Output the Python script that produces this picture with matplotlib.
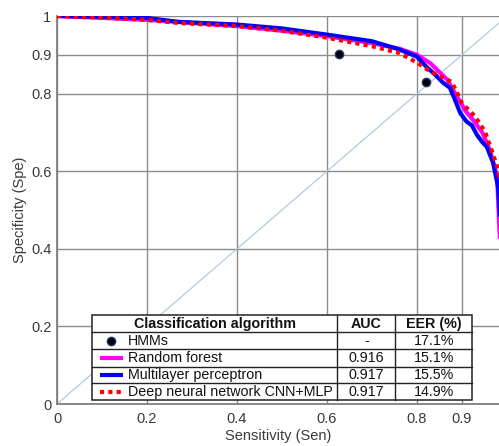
import matplotlib

matplotlib.use("Agg")

import matplotlib.pyplot as plt
from matplotlib.patches import Rectangle

plt.rcParams["font.family"] = ["Liberation Sans", "DejaVu Sans"]

# ROC-style curves (sensitivity vs specificity)
rf_sen = [0.0, 0.1, 0.2, 0.3, 0.4, 0.5, 0.6, 0.7, 0.76, 0.8, 0.83, 0.867,
          0.889, 0.91, 0.924, 0.945, 0.962, 0.978, 0.983, 0.992, 1.0]
rf_spe = [1.0, 0.995, 0.99, 0.982, 0.974, 0.962, 0.948, 0.93, 0.916, 0.9, 0.878, 0.836,
          0.792, 0.752, 0.733, 0.7, 0.655, 0.586, 0.45, 0.3, 0.0]

mlp_sen = [0.0, 0.1, 0.2, 0.27, 0.4, 0.5, 0.6, 0.7, 0.76, 0.8, 0.82, 0.84, 0.858,
           0.873, 0.884, 0.896, 0.91, 0.922, 0.933, 0.945, 0.955, 0.969, 0.98, 0.995, 1.0]
mlp_spe = [1.0, 0.998, 0.995, 0.985, 0.978, 0.968, 0.952, 0.935, 0.914, 0.895, 0.87, 0.849, 0.828,
           0.815, 0.785, 0.75, 0.728, 0.718, 0.694, 0.675, 0.663, 0.622, 0.56, 0.3, 0.0]

dnn_sen = [0.0, 0.1, 0.2, 0.27, 0.4, 0.5, 0.6, 0.7, 0.76, 0.8, 0.83, 0.86, 0.877,
           0.89, 0.9, 0.929, 0.951, 0.967, 0.978, 0.988, 1.0]
dnn_spe = [1.0, 0.996, 0.99, 0.982, 0.974, 0.962, 0.944, 0.922, 0.905, 0.88, 0.857, 0.84, 0.83,
           0.8, 0.775, 0.741, 0.702, 0.65, 0.612, 0.56, 0.0]

hmm_sen = [0.627, 0.819]
hmm_spe = [0.902, 0.831]

x_ticks = [0, 0.2, 0.4, 0.6, 0.8, 0.9]
y_ticks = [0, 0.2, 0.4, 0.6, 0.8, 0.9, 1]

table_header = ["Classification algorithm", "AUC", "EER (%)"]
algorithms = ["HMMs", "Random forest", "Multilayer perceptron", "Deep neural network CNN+MLP"]
auc_values = ["-", "0.916", "0.917", "0.917"]
eer_values = ["17.1%", "15.1%", "15.5%", "14.9%"]

W, H = 499, 446
fig = plt.figure(figsize=(W / 100, H / 100), dpi=100)
ax = fig.add_axes([57 / W, 1 - 404 / H, (W - 57) / W, (404 - 16) / H])

ax.plot([0, 1], [0, 1], color="#a9c4df", lw=0.8, zorder=2)
ax.plot(rf_sen, rf_spe, color="#ff00ff", lw=3.0, zorder=3, solid_capstyle="butt")
ax.plot(mlp_sen, mlp_spe, color="#0000ff", lw=3.0, zorder=4, solid_capstyle="butt")
ax.plot(dnn_sen, dnn_spe, color="#ff0000", lw=3.0, ls=(0, (1, 1)), zorder=5)
ax.plot(hmm_sen, hmm_spe, ls="none", marker="o", ms=6, mfc="black",
        mec="#1f3a6e", mew=1.0, zorder=6)

ax.set_xlim(0, (W - 57) / 450)
ax.set_ylim(0, 1)
ax.set_xticks(x_ticks)
ax.set_xticklabels([f"{v:g}" for v in x_ticks])
ax.set_yticks(y_ticks)
ax.set_yticklabels([f"{v:g}" for v in y_ticks])
ax.tick_params(axis="both", length=0, labelsize=10.5, labelcolor="#3a3a3a")
ax.tick_params(axis="x", pad=6)
ax.tick_params(axis="y", pad=4)
ax.grid(True, color="#8c8c8c", lw=1.0)
ax.set_axisbelow(True)
for side in ["top", "right"]:
    ax.spines[side].set_visible(False)
for side in ["left", "bottom"]:
    ax.spines[side].set_color("#7f7f7f")
    ax.spines[side].set_linewidth(1.3)
ax.set_xlabel("Sensitivity (Sen)", fontsize=10.5, color="#3a3a3a", labelpad=2)
ax.set_ylabel("Specificity (Spe)", fontsize=10.5, color="#3a3a3a", labelpad=3)

# legend table drawn in pixel coordinates on an overlay axes
tab = fig.add_axes([0, 0, 1, 1])
tab.set_xlim(0, W)
tab.set_ylim(H, 0)
tab.axis("off")

left, right = 92.5, 472.5
col1, col2 = 337.5, 395.5
row_edges = [315, 332.3, 349.3, 366.5, 383.3, 400]

tab.add_patch(Rectangle((left, row_edges[0]), right - left, row_edges[-1] - row_edges[0],
                        facecolor="white", edgecolor="#222222", lw=1.1, zorder=1))
for y in row_edges[1:-1]:
    tab.plot([left, right], [y, y], color="#222222", lw=1.0, zorder=2)
for x in [col1, col2]:
    tab.plot([x, x], [row_edges[0], row_edges[-1]], color="#222222", lw=1.0, zorder=2)

hy = (row_edges[0] + row_edges[1]) / 2
tab.text((left + col1) / 2, hy, table_header[0], ha="center", va="center",
         fontsize=10.3, fontweight="bold", color="#111111")
tab.text((col1 + col2) / 2, hy, table_header[1], ha="center", va="center",
         fontsize=10.3, fontweight="bold", color="#111111")
tab.text((col2 + right) / 2, hy, table_header[2], ha="center", va="center",
         fontsize=10.3, fontweight="bold", color="#111111")

sample_styles = [
    dict(ls="none", marker="o", ms=6, mfc="black", mec="#1f3a6e", mew=1.0),
    dict(color="#ff00ff", lw=3.0, solid_capstyle="butt"),
    dict(color="#0000ff", lw=3.0, solid_capstyle="butt"),
    dict(color="#ff0000", lw=3.0, ls=(0, (1, 1))),
]
for i, name in enumerate(algorithms):
    cy = (row_edges[i + 1] + row_edges[i + 2]) / 2
    if i == 0:
        tab.plot([111], [cy], zorder=3, **sample_styles[i])
    else:
        tab.plot([100, 123], [cy, cy], zorder=3, **sample_styles[i])
    tab.text(128, cy, name, ha="left", va="center", fontsize=10.3, color="#111111")
    tab.text((col1 + col2) / 2, cy, auc_values[i], ha="center", va="center",
             fontsize=10.3, color="#111111")
    tab.text((col2 + right) / 2, cy, eer_values[i], ha="center", va="center",
             fontsize=10.3, color="#111111")

fig.savefig("out.png", dpi=100)
